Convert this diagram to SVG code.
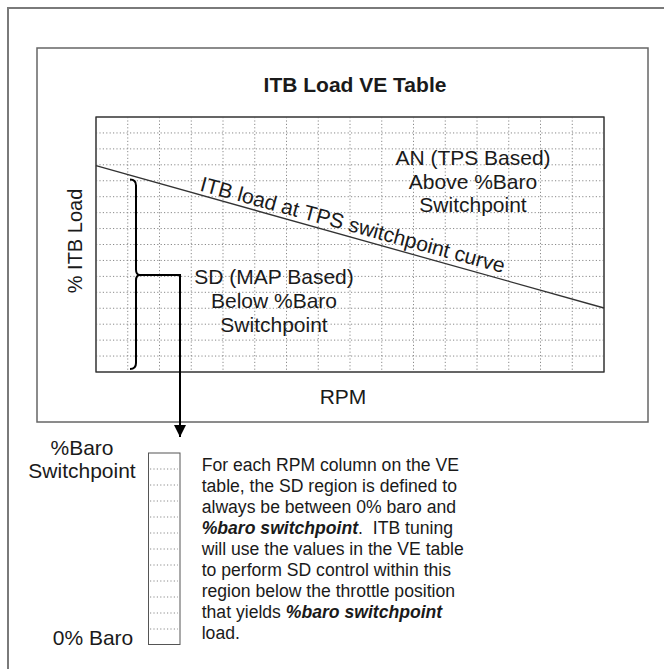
<svg xmlns="http://www.w3.org/2000/svg" width="664" height="669" viewBox="0 0 664 669">
<defs>
<style>
.frame{fill:none;stroke:#7a7a7a;stroke-width:2}
.box{fill:#fff;stroke:#666;stroke-width:1.5}
.grid{fill:#fff;stroke:#333;stroke-width:1}
.dot{fill:none;stroke:#8a8a8a;stroke-width:1;stroke-dasharray:1.2,2.2}
.t{font-family:"Liberation Sans",Arial,sans-serif;fill:#1a1a1a}
.big{font-size:21px}
.desc{font-size:17.6px}
.bi{font-weight:bold;font-style:italic}
.conn{fill:none;stroke:#000;stroke-width:2}
</style>
<marker id="arr" markerWidth="12" markerHeight="12" refX="12" refY="6" orient="auto" markerUnits="userSpaceOnUse">
<polygon points="0,0 12,6 0,12" fill="#000"/>
</marker>
</defs>
<rect width="664" height="669" fill="#fff"/>
<rect class="frame" x="8" y="8" width="720" height="720"/>
<g id="ve-table">
<rect class="box" x="37" y="48" width="611" height="374"/>
<text class="t" x="355" y="92" font-size="21" font-weight="bold" text-anchor="middle">ITB Load VE Table</text>
<rect class="grid" x="96" y="117" width="508" height="255"/>
<path class="dot" d="M127.75,117V372M159.5,117V372M191.25,117V372M223,117V372M254.75,117V372M286.5,117V372M318.25,117V372M350,117V372M381.75,117V372M413.5,117V372M445.25,117V372M477,117V372M508.75,117V372M540.5,117V372M572.25,117V372M96,132.94H604M96,148.88H604M96,164.81H604M96,180.75H604M96,196.69H604M96,212.63H604M96,228.56H604M96,244.5H604M96,260.44H604M96,276.38H604M96,292.31H604M96,308.25H604M96,324.19H604M96,340.13H604M96,356.06H604"/>
<rect x="96" y="117" width="508" height="255" fill="none" stroke="#333" stroke-width="1"/>
<line x1="96" y1="165.7" x2="604" y2="308" stroke="#333" stroke-width="1.3"/>
<text class="t big" transform="translate(199,190.5) rotate(15.2)">ITB load at TPS switchpoint curve</text>
<text class="t big" text-anchor="middle" x="473"><tspan x="473" y="165">AN (TPS Based)</tspan><tspan x="473" y="188.5">Above %Baro</tspan><tspan x="473" y="211.5">Switchpoint</tspan></text>
<text class="t big" text-anchor="middle" x="274"><tspan x="274" y="284">SD (MAP Based)</tspan><tspan x="274" y="308">Below %Baro</tspan><tspan x="274" y="332">Switchpoint</tspan></text>
<text class="t" font-size="20" text-anchor="middle" transform="translate(82,241) rotate(-90)">% ITB Load</text>
<text class="t big" x="343" y="404" text-anchor="middle">RPM</text>
<path class="conn" d="M130,179.5Q136,179.5 136,185.5L136,269.5Q136,275 140,275Q136,275 136,280.5L136,363Q136,369 130,369"/>
</g>
<g id="connectors">
<path class="conn" d="M140,275H180V437" marker-end="url(#arr)"/>
</g>
<g id="sd-column">
<rect x="148.5" y="453" width="31.5" height="191.5" fill="#fff" stroke="#555" stroke-width="1"/>
<path class="dot" d="M150,469H178M150,485H178M150,501H178M150,517H178M150,533H178M150,549H178M150,565H178M150,581H178M150,597H178M150,613H178M150,629H178"/>
<text class="t big" text-anchor="middle"><tspan x="82" y="455">%Baro</tspan><tspan x="82" y="478">Switchpoint</tspan></text>
<text class="t big" x="93" y="645" text-anchor="middle">0% Baro</text>
</g>
<g id="description">
<text class="t desc"><tspan x="201.7" y="471">For each RPM column on the VE</tspan><tspan x="201.7" y="492">table, the SD region is defined to</tspan><tspan x="201.7" y="513">always be between 0% baro and</tspan><tspan x="201.7" y="534"><tspan class="bi">%baro switchpoint</tspan>.&#160; ITB tuning</tspan><tspan x="201.7" y="555">will use the values in the VE table</tspan><tspan x="201.7" y="576">to perform SD control within this</tspan><tspan x="201.7" y="597">region below the throttle position</tspan><tspan x="201.7" y="618">that yields <tspan class="bi">%baro switchpoint</tspan></tspan><tspan x="201.7" y="639">load.</tspan></text>
</g>
</svg>
